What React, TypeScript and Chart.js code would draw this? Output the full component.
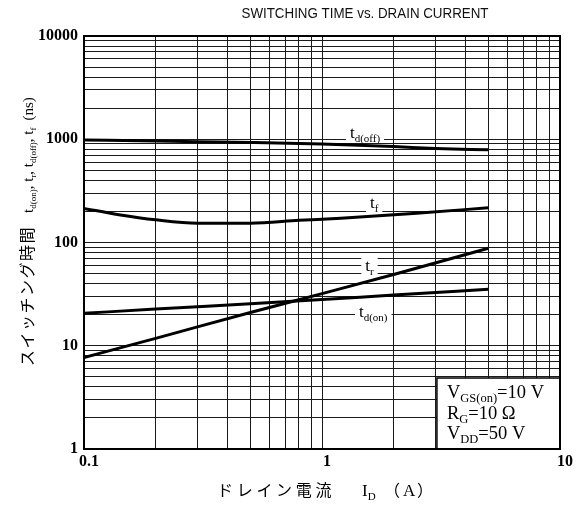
import React, { useEffect, useRef } from 'react';
import { Chart, registerables } from 'chart.js';
Chart.register(...registerables);

// ---- data ----
const TD_OFF_X = [0.1, 0.2, 0.3, 0.5, 1, 2, 3, 5];
const TD_OFF_Y = [985, 960, 945, 930, 900, 850, 815, 790];
const TF_X = [0.1, 0.14, 0.2, 0.3, 0.5, 0.8, 1.2, 2.5, 5];
const TF_Y = [214, 186, 166, 154, 154, 164, 172, 192, 217];
const TR_X = [0.1, 0.2, 0.5, 1, 2, 5];
const TR_Y = [7.7, 11.8, 21, 32, 49, 88];
const TD_ON_X = [0.1, 0.2, 0.5, 1, 2, 5];
const TD_ON_Y = [20.6, 22.7, 25.5, 28, 31, 35.2];

const X_DECADES = [0.1, 1, 10];
const X_TICK_LABELS = ['0.1', '1', '10'];
const Y_DECADES = [1, 10, 100, 1000, 10000];
const Y_TICK_LABELS = ['1', '10', '100', '1000', '10000'];
const MULTIPLIERS = [1, 2, 3, 4, 5, 6, 7, 8, 9];

const TITLE = 'SWITCHING TIME vs. DRAIN CURRENT';

type Seg = { t: string; sub?: boolean };

const CURVE_LABELS: { x: number; y: number; segs: Seg[] }[] = [
  { x: 1.31, y: 1150, segs: [{ t: 't' }, { t: 'd(off)', sub: true }] },
  { x: 1.59, y: 241, segs: [{ t: 't' }, { t: 'f', sub: true }] },
  { x: 1.52, y: 59.2, segs: [{ t: 't' }, { t: 'r', sub: true }] },
  { x: 1.43, y: 21.2, segs: [{ t: 't' }, { t: 'd(on)', sub: true }] },
];

const COND_LINES: Seg[][] = [
  [{ t: 'V' }, { t: 'GS(on)', sub: true }, { t: '=10 V' }],
  [{ t: 'R' }, { t: 'G', sub: true }, { t: '=10 Ω' }],
  [{ t: 'V' }, { t: 'DD', sub: true }, { t: '=50 V' }],
];

function gridValues(decades: number[]) {
  const out: number[] = [];
  for (let i = 0; i < decades.length - 1; i++) {
    for (const m of MULTIPLIERS) out.push(+(decades[i] * m).toPrecision(6));
  }
  out.push(decades[decades.length - 1]);
  return out;
}
const X_GRID = gridValues(X_DECADES);
const Y_GRID = gridValues(Y_DECADES);

function labelFor(v: number, decades: number[], labels: string[]) {
  const i = decades.findIndex((d) => Math.abs(Math.log10(d) - Math.log10(v)) < 1e-6);
  return i >= 0 ? labels[i] : '';
}

const SERIF = '"Liberation Serif", "DejaVu Serif", serif';
const CJK = '"Noto Sans CJK JP", sans-serif';

function drawRich(ctx: CanvasRenderingContext2D, segs: Seg[], x: number, y: number, main: number, sub: number) {
  let cx = x;
  for (const s of segs) {
    ctx.font = `${s.sub ? sub : main}px ${SERIF}`;
    ctx.fillText(s.t, cx, s.sub ? y + main * 0.22 : y);
    cx += ctx.measureText(s.t).width;
  }
  return cx - x;
}
function richWidth(ctx: CanvasRenderingContext2D, segs: Seg[], main: number, sub: number) {
  let w = 0;
  for (const s of segs) {
    ctx.font = `${s.sub ? sub : main}px ${SERIF}`;
    w += ctx.measureText(s.t).width;
  }
  return w;
}

const decorations = {
  id: 'decorations',
  afterDatasetsDraw(chart: any) {
    const ctx: CanvasRenderingContext2D = chart.ctx;
    const xs = chart.scales.x;
    const ys = chart.scales.y;
    const area = chart.chartArea;
    ctx.save();
    ctx.textBaseline = 'alphabetic';
    // curve labels
    for (const l of CURVE_LABELS) {
      const px = xs.getPixelForValue(l.x);
      const py = ys.getPixelForValue(l.y);
      const w = richWidth(ctx, l.segs, 17, 11);
      ctx.fillStyle = '#fff';
      ctx.fillRect(px - 4, py - 9, w + 8, 19);
      ctx.fillStyle = '#000';
      drawRich(ctx, l.segs, px, py + 5, 17, 11);
    }
    // conditions box
    const bx = xs.getPixelForValue(3.04);
    const by = ys.getPixelForValue(4.87);
    ctx.fillStyle = '#fff';
    ctx.fillRect(bx, by, area.right - bx, area.bottom - by);
    ctx.strokeStyle = '#000';
    ctx.lineWidth = 1.5;
    ctx.strokeRect(bx, by, area.right - bx, area.bottom - by);
    ctx.fillStyle = '#000';
    COND_LINES.forEach((segs, i) => {
      drawRich(ctx, segs, bx + 10, by + 20 + i * 20.5, 18.5, 12.5);
    });
    // frame
    ctx.lineWidth = 2;
    ctx.strokeRect(area.left, area.top, area.right - area.left, area.bottom - area.top);
    ctx.restore();
  },
  afterDraw(chart: any) {
    const ctx: CanvasRenderingContext2D = chart.ctx;
    ctx.save();
    ctx.fillStyle = '#000';
    ctx.textBaseline = 'alphabetic';
    // title, squeezed to the reference width
    ctx.font = `14px "Liberation Sans", Arial, sans-serif`;
    const tw = ctx.measureText(TITLE).width;
    ctx.save();
    ctx.translate(365, 18);
    ctx.scale(247 / tw, 1);
    ctx.fillStyle = '#111';
    ctx.fillText(TITLE, -tw / 2, 0);
    ctx.restore();

    // x axis title
    const jx = 'ドレイン電流';
    ctx.font = `16px ${CJK}`;
    let cx = 217;
    for (const ch of jx) {
      ctx.fillText(ch, cx, 496);
      cx += 19.7;
    }
    drawRich(ctx, [{ t: 'I' }, { t: 'D', sub: true }], 362, 496, 17, 11);
    ctx.font = `16px ${CJK}`;
    ctx.fillText('（', 384, 496);
    ctx.font = `17px ${SERIF}`;
    ctx.fillText('A', 403, 496);
    ctx.font = `16px ${CJK}`;
    ctx.fillText('）', 417, 496);

    // y axis title (rotated)
    ctx.translate(33, 366);
    ctx.rotate(-Math.PI / 2);
    ctx.font = `16px ${CJK}`;
    let lx = 0;
    for (const ch of 'スイッチング時間') {
      ctx.fillText(ch, lx, 0);
      lx += 17.5;
    }
    lx += 13;
    lx += drawRich(
      ctx,
      [
        { t: 't' }, { t: 'd(on)', sub: true }, { t: ', ' },
        { t: 't' }, { t: 'r', sub: true }, { t: ', ' },
        { t: 't' }, { t: 'd(off)', sub: true }, { t: ', ' },
        { t: 't' }, { t: 'f', sub: true },
      ],
      lx, 0, 15, 9
    );
    lx += 7;
    ctx.font = `15px ${SERIF}`;
    ctx.fillText('(ns)', lx, 0);
    ctx.restore();
  },
};

function series(xs: number[], ys: number[]) {
  return xs.map((x, i) => ({ x, y: ys[i] }));
}

export default function App() {
  const ref = useRef<HTMLCanvasElement>(null);
  useEffect(() => {
    if (!ref.current) return;
    const lineStyle = {
      borderColor: '#000',
      borderWidth: 3,
      pointRadius: 0,
      fill: false,
      cubicInterpolationMode: 'monotone' as const,
    };
    const tickFont = { family: SERIF, size: 16, weight: 'bold' as const };
    const chart = new Chart(ref.current, {
      type: 'line',
      data: {
        datasets: [
          { label: 'td(off)', data: series(TD_OFF_X, TD_OFF_Y), ...lineStyle },
          { label: 'tf', data: series(TF_X, TF_Y), ...lineStyle },
          { label: 'tr', data: series(TR_X, TR_Y), ...lineStyle },
          { label: 'td(on)', data: series(TD_ON_X, TD_ON_Y), ...lineStyle },
        ],
      },
      options: {
        animation: false,
        responsive: false,
        devicePixelRatio: 1,
        layout: { padding: { left: 0, top: 36, right: 21, bottom: 0 } },
        plugins: { legend: { display: false }, tooltip: { enabled: false }, title: { display: false } },
        scales: {
          x: {
            type: 'logarithmic',
            min: 0.1,
            max: 10,
            afterBuildTicks: (axis: any) => {
              axis.ticks = X_GRID.map((v) => ({ value: v }));
            },
            afterFit: (axis: any) => {
              axis.height = 57;
            },
            grid: { color: '#1a1a1a', lineWidth: 1, drawTicks: false },
            border: { color: '#000', width: 2 },
            ticks: {
              autoSkip: false,
              maxRotation: 0,
              minRotation: 0,
              padding: 3,
              labelOffset: 5,
              color: '#000',
              font: tickFont,
              callback: (v: any) => labelFor(Number(v), X_DECADES, X_TICK_LABELS),
            },
          },
          y: {
            type: 'logarithmic',
            min: 1,
            max: 10000,
            afterBuildTicks: (axis: any) => {
              axis.ticks = Y_GRID.map((v) => ({ value: v }));
            },
            afterFit: (axis: any) => {
              axis.width = 84;
            },
            grid: { color: '#1a1a1a', lineWidth: 1, drawTicks: false },
            border: { color: '#000', width: 2 },
            ticks: {
              autoSkip: false,
              padding: 6,
              color: '#000',
              font: tickFont,
              callback: (v: any) => labelFor(Number(v), Y_DECADES, Y_TICK_LABELS),
            },
          },
        },
      },
      plugins: [decorations],
    });
    return () => chart.destroy();
  }, []);
  return (
    <div style={{ position: 'absolute', left: 0, top: 0, width: 581, height: 506, background: '#fff' }}>
      <canvas ref={ref} width={581} height={506} style={{ width: 581, height: 506, display: 'block' }} />
    </div>
  );
}
